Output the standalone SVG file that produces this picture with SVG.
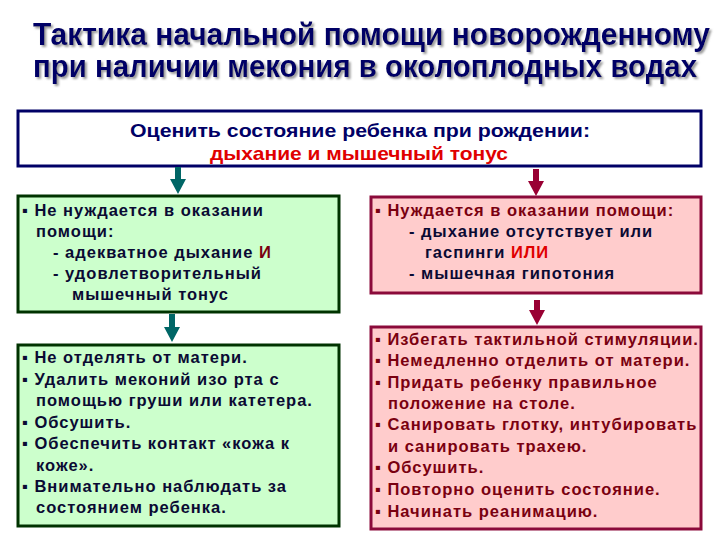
<svg xmlns="http://www.w3.org/2000/svg" width="720" height="540" viewBox="0 0 720 540">
<defs>
<filter id="sh" filterUnits="userSpaceOnUse" x="0" y="0" width="720" height="100">
<feDropShadow dx="2" dy="2" stdDeviation="1.2" flood-color="#808080" flood-opacity="0.8"/>
</filter>
<style>
.title{font-family:"Liberation Sans",Arial,sans-serif;font-weight:bold;font-size:28px;fill:#000066}
.hd{font-family:"Liberation Sans",Arial,sans-serif;font-weight:bold;font-size:19px;text-anchor:middle}
.t{font-family:"Liberation Sans",Arial,sans-serif;font-weight:bold;font-size:16.5px;letter-spacing:1px}
.dk{fill:#0a0a33}
.rd{fill:#7a0010}
.red{fill:#e00000}
.gbox{fill:#ccffcc;stroke:#003300;stroke-width:3}
.pbox{fill:#ffcccc;stroke:#8b0a3a;stroke-width:3}
.tbox{fill:#ffffff;stroke:#000066;stroke-width:3}
.ga{fill:#006666}
.pa{fill:#990033}
</style>
</defs>
<rect width="720" height="540" fill="#ffffff"/>
<g id="title" filter="url(#sh)">
<text class="title" transform="translate(33,45) scale(1,1.12)" x="0" y="0" textLength="677" lengthAdjust="spacingAndGlyphs">Тактика начальной помощи новорожденному</text>
<text class="title" transform="translate(33,77) scale(1,1.12)" x="0" y="0" textLength="664" lengthAdjust="spacingAndGlyphs">при наличии мекония в околоплодных водах</text>
</g>
<g id="assess">
<rect class="tbox" x="18" y="111" width="683" height="55"/>
<text class="hd" x="360" y="137" fill="#000066" textLength="460" lengthAdjust="spacingAndGlyphs">Оценить состояние ребенка при рождении:</text>
<text class="hd" x="359" y="160" fill="#e00000" textLength="298" lengthAdjust="spacingAndGlyphs">дыхание и мышечный тонус</text>
</g>
<g id="connectors">
<polygon class="ga" points="175,167 181,167 181,179 186,179 178,194 170,179 175,179"/>
<polygon class="pa" points="533,169 539,169 539,181 544,181 536,196 528,181 533,181"/>
<polygon class="ga" points="169,314 175,314 175,327 180,327 172,342 164,327 169,327"/>
<polygon class="pa" points="534,300 540,300 540,310 545,310 537,325 529,310 534,310"/>
</g>
<g id="no-help">
<rect class="gbox" x="18" y="196" width="321" height="116"/>
<text class="t dk" x="22" y="216">▪ Не нуждается в оказании</text>
<text class="t dk" x="36" y="237">помощи:</text>
<text class="t dk" x="53" y="258">- адекватное дыхание <tspan class="rd">И</tspan></text>
<text class="t dk" x="53" y="279">- удовлетворительный</text>
<text class="t dk" x="72" y="300">мышечный тонус</text>
</g>
<g id="help">
<rect class="pbox" x="371" y="197" width="330" height="96"/>
<text class="t rd" x="375" y="216">▪ Нуждается в оказании помощи:</text>
<text class="t dk" x="409" y="237">- дыхание отсутствует или</text>
<text class="t dk" x="425" y="258">гаспинги <tspan class="red">ИЛИ</tspan></text>
<text class="t dk" x="409" y="279">- мышечная гипотония</text>
</g>
<g id="no-help-actions">
<rect class="gbox" x="18" y="345" width="321" height="181"/>
<text class="t dk" x="22" y="363">▪ Не отделять от матери.</text>
<text class="t dk" x="22" y="385">▪ Удалить меконий изо рта с</text>
<text class="t dk" x="36" y="406">помощью груши или катетера.</text>
<text class="t dk" x="22" y="428">▪ Обсушить.</text>
<text class="t dk" x="22" y="449">▪ Обеспечить контакт «кожа к</text>
<text class="t dk" x="36" y="471">коже».</text>
<text class="t dk" x="22" y="492">▪ Внимательно наблюдать за</text>
<text class="t dk" x="36" y="513">состоянием ребенка.</text>
</g>
<g id="help-actions">
<rect class="pbox" x="371" y="327" width="330" height="202"/>
<text class="t rd" x="375" y="345">▪ Избегать тактильной стимуляции.</text>
<text class="t rd" x="375" y="366">▪ Немедленно отделить от матери.</text>
<text class="t rd" x="375" y="388">▪ Придать ребенку правильное</text>
<text class="t rd" x="388" y="409">положение на столе.</text>
<text class="t rd" x="375" y="430">▪ Санировать глотку, интубировать</text>
<text class="t rd" x="388" y="452">и санировать трахею.</text>
<text class="t rd" x="375" y="473">▪ Обсушить.</text>
<text class="t rd" x="375" y="495">▪ Повторно оценить состояние.</text>
<text class="t rd" x="375" y="517">▪ Начинать реанимацию.</text>
</g>
</svg>
